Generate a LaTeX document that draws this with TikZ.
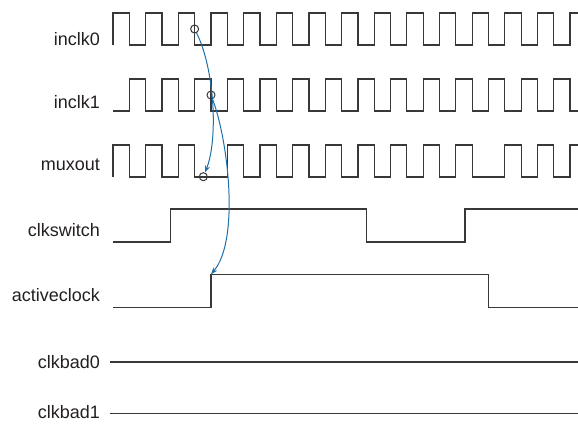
\documentclass[tikz,border=0pt]{standalone}
\usepackage{fontspec}
\setmainfont{Liberation Sans}
\usetikzlibrary{arrows.meta}
\definecolor{wavec}{HTML}{383838}
\definecolor{textc}{HTML}{231F20}
\definecolor{arrc}{HTML}{1F6FA8}
\begin{document}
\begin{tikzpicture}[x=1bp,y=-1bp,
  wave/.style={draw=wavec, line width=1.25bp, line join=miter},
  lbl/.style={anchor=base east, inner sep=0pt, text=textc, font=\fontsize{18bp}{20bp}\selectfont},
  ring/.style={circle, draw=wavec, line width=1bp, minimum size=8bp, inner sep=0pt},
  conn/.style={draw=arrc, line width=1bp, -{Stealth[length=7bp,width=5bp]}}]
\useasboundingbox (0,0) rectangle (578,423);
\pgfmathsetmacro{\h}{16.325}
% labels
\node[lbl] (l0) at (100,45) {inclk0};
\node[lbl] (l1) at (100,108) {inclk1};
\node[lbl] (l2) at (100,170) {muxout};
\node[lbl] (l3) at (100,236.7) {clkswitch};
\node[lbl] (l4) at (100,301) {activeclock};
\node[lbl] (l5) at (100,368.4) {clkbad0};
\node[lbl] (l6) at (100,418.6) {clkbad1};
% inclk0
\draw[wave] (113,45) \foreach \i in {1,...,14}{ -- ++(0,-32) -- ++(\h,0) -- ++(0,32) -- ++(\h,0) } -- ++(0,-32) -- (578,13);
% inclk1
\draw[wave] (113,111) -- ++(\h,0) \foreach \i in {1,...,13}{ -- ++(0,-32) -- ++(\h,0) -- ++(0,32) -- ++(\h,0) } -- ++(0,-32) -- ++(\h,0) -- ++(0,32) -- (578,111);
% muxout
\draw[wave] (113,177) \foreach \i in {1,...,3}{ -- ++(0,-32) -- ++(\h,0) -- ++(0,32) -- ++(\h,0) } -- ++(\h,0)
  \foreach \i in {1,...,7}{ -- ++(0,-32) -- ++(\h,0) -- ++(0,32) -- ++(\h,0) }
  -- ++(0,-32) -- ++(\h,0) -- ++(0,32) -- ++({2*\h},0)
  -- ++(0,-32) -- ++(\h,0) -- ++(0,32) -- ++(\h,0)
  -- ++(0,-32) -- ++(\h,0) -- ++(0,32) -- ++(\h,0)
  -- ++(0,-32) -- (578,145);
% clkswitch
\draw[wave] (113,242) -- (170.7,242) -- (170.7,209) -- (366.7,209) -- (366.7,242) -- (465,242) -- (465,209) -- (578,209);
% activeclock
\draw[wave] (113,307.3) -- (210.95,307.3) -- (210.95,274.3) -- (488.5,274.3) -- (488.5,307.3) -- (578,307.3);
\coordinate (actrise) at (210.95,274.3);
% clkbad
\draw[wave] (110,362) -- (578,362);
\draw[wave] (110,413.5) -- (578,413.5);
% rings
\node[ring] (c0) at (194.6,29) {};
\node[ring] (c1) at (211,95) {};
\node[ring] (c2) at (203.3,176.7) {};
% arrows
\draw[conn] (c0) .. controls (215,70) and (218,140) .. (c2);
\draw[conn] (c1) .. controls (228,140) and (240,240) .. (actrise);
\end{tikzpicture}
\end{document}
